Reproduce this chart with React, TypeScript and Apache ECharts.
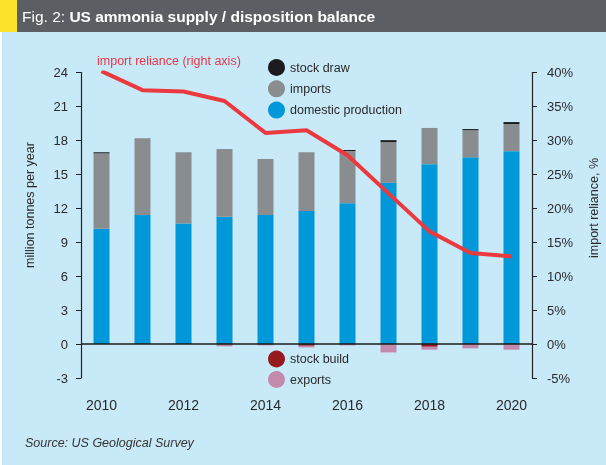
import React, { useEffect, useRef } from "react";
import * as echarts from "echarts";

const years = ["2010", "2011", "2012", "2013", "2014", "2015", "2016", "2017", "2018", "2019", "2020"];
const domestic = [10.2, 11.4, 10.65, 11.25, 11.4, 11.75, 12.45, 14.25, 15.9, 16.5, 17.05];
const imports = [6.65, 6.8, 6.3, 6.0, 4.95, 5.2, 4.6, 3.6, 3.2, 2.4, 2.4];
const stockDraw = [0.1, 0, 0, 0, 0, 0, 0.1, 0.17, 0, 0.1, 0.17];
const stockBuild = [0, 0, 0, 0, 0, -0.15, 0, 0, -0.24, 0, 0];
const exportsData = [0, 0, 0, -0.2, -0.12, -0.15, -0.12, -0.74, -0.26, -0.38, -0.5];
const importReliance = [40.2, 37.4, 37.2, 35.8, 31.1, 31.5, 27.8, 22.2, 16.6, 13.4, 12.9];

const FONT = "'Liberation Sans', Arial, sans-serif";
const TXT = "#2a2a2a";

export default function App() {
  const ref = useRef<HTMLDivElement>(null);
  useEffect(() => {
    if (!ref.current) return;
    const chart = echarts.init(ref.current, undefined, { renderer: "svg" });
    const barBase = { type: "bar", stack: "total", barWidth: 16, xAxisIndex: 0, yAxisIndex: 0 };
    chart.setOption({
      animation: false,
      textStyle: { fontFamily: FONT },
      graphic: [
        { type: "rect", shape: { x: 0, y: 0, width: 606, height: 465 }, style: { fill: "#ffffff" }, z: -10 },
        { type: "rect", shape: { x: 2, y: 32, width: 604, height: 433 }, style: { fill: "#c8e9f8" }, z: -9 },
        { type: "rect", shape: { x: 0, y: 0, width: 606, height: 32 }, style: { fill: "#5b5e62" }, z: -8 },
        { type: "rect", shape: { x: 0, y: 0, width: 17, height: 32 }, style: { fill: "#fde32c" }, z: -7 },
        {
          type: "text", x: 97, y: 61,
          style: { text: "import reliance (right axis)", fill: "#e8384a", font: `12.5px ${FONT}`, verticalAlign: "middle" },
        },
        {
          type: "text", x: 30, y: 205, rotation: Math.PI / 2,
          style: { text: "million tonnes per year", fill: TXT, font: `12.5px ${FONT}`, align: "center", verticalAlign: "middle" },
        },
        {
          type: "text", x: 594, y: 208, rotation: Math.PI / 2,
          style: { text: "import reliance, %", fill: TXT, font: `12.5px ${FONT}`, align: "center", verticalAlign: "middle" },
        },
        {
          type: "text", x: 25, y: 443,
          style: { text: "Source: US Geological Survey", fill: "#333333", font: `italic 12.5px ${FONT}`, verticalAlign: "middle" },
        },
      ],
      title: {
        text: "{a|Fig. 2: }{b|US ammonia supply / disposition balance}",
        left: 22,
        top: 8,
        padding: 0,
        textStyle: {
          fontWeight: "normal",
          rich: {
            a: { fontSize: 15.5, color: "#ffffff", fontWeight: "normal", fontFamily: FONT },
            b: { fontSize: 15.5, color: "#ffffff", fontWeight: "bold", fontFamily: FONT },
          },
        },
      },
      legend: [
        {
          data: ["stock draw", "imports", "domestic production"],
          orient: "vertical",
          left: 268,
          top: 59,
          padding: 0,
          icon: "circle",
          itemWidth: 17,
          itemHeight: 17,
          itemGap: 4.3,
          textStyle: { fontSize: 12.5, color: TXT, fontFamily: FONT },
        },
        {
          data: ["stock build", "exports"],
          orient: "vertical",
          left: 268,
          top: 350.5,
          padding: 0,
          icon: "circle",
          itemWidth: 17,
          itemHeight: 17,
          itemGap: 3.5,
          textStyle: { fontSize: 12.5, color: TXT, fontFamily: FONT },
        },
      ],
      grid: { left: 81, right: 74, top: 72.5, bottom: 87, containLabel: false },
      xAxis: [
        {
          type: "category",
          data: years,
          axisLine: { show: false },
          axisTick: { show: false },
          axisLabel: { interval: 1, margin: 20, fontSize: 14, color: TXT, fontFamily: FONT },
          splitLine: { show: false },
        },
      ],
      yAxis: [
        {
          type: "value",
          min: -3,
          max: 24,
          interval: 3,
          axisLine: { show: true, lineStyle: { color: "#222222", width: 1.2 } },
          axisTick: { show: true, length: 5, lineStyle: { color: "#222222" } },
          axisLabel: { margin: 13, fontSize: 13, color: TXT, fontFamily: FONT },
          splitLine: { show: false },
        },
        {
          type: "value",
          min: -5,
          max: 40,
          interval: 5,
          position: "right",
          axisLine: { show: true, lineStyle: { color: "#222222", width: 1.2 } },
          axisTick: { show: true, length: 5, lineStyle: { color: "#222222" } },
          axisLabel: { margin: 15, fontSize: 13, color: TXT, fontFamily: FONT, formatter: "{value}%" },
          splitLine: { show: false },
        },
      ],
      series: [
        {
          ...barBase,
          name: "domestic production",
          data: domestic,
          itemStyle: { color: "#0098d8" },
          markLine: {
            silent: true,
            symbol: ["none", "none"],
            label: { show: false },
            lineStyle: { color: "#1a1a1a", width: 1.5, type: "solid" },
            data: [{ yAxis: 0 }],
            z: 5,
          },
        },
        { ...barBase, name: "imports", data: imports, itemStyle: { color: "#898d90" } },
        { ...barBase, name: "stock draw", data: stockDraw, itemStyle: { color: "#1c1c20" } },
        { ...barBase, name: "stock build", data: stockBuild, itemStyle: { color: "#961b20" } },
        { ...barBase, name: "exports", data: exportsData, itemStyle: { color: "#c48aae" } },
        {
          type: "line",
          name: "import reliance",
          yAxisIndex: 1,
          data: importReliance,
          symbol: "none",
          lineStyle: { color: "#ea3a3f", width: 4 },
          itemStyle: { color: "#ea3a3f" },
          z: 10,
        },
      ],
    });
    return () => chart.dispose();
  }, []);
  return <div ref={ref} style={{ position: "fixed", left: 0, top: 0, width: 606, height: 465 }} />;
}
